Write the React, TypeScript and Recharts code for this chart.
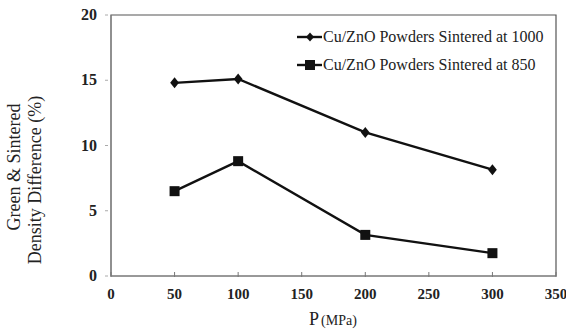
import React from 'react';
import { LineChart, Line, XAxis, YAxis, ReferenceArea } from 'recharts';

const pressures = [50, 100, 200, 300];
const sintered1000 = [14.8, 15.1, 11.0, 8.15];
const sintered850 = [6.5, 8.8, 3.15, 1.75];
const xTicks = [0, 50, 100, 150, 200, 250, 300, 350];
const yTicks = [0, 5, 10, 15, 20];
const series1000Name = 'Cu/ZnO Powders Sintered at 1000';
const series850Name = 'Cu/ZnO Powders Sintered at 850';

const data = pressures.map((p, i) => ({ p, s1000: sintered1000[i], s850: sintered850[i] }));

const FONT = "'Liberation Serif', 'Times New Roman', 'DejaVu Serif', serif";
const fs = { fontFamily: FONT } as React.CSSProperties;

const XTick = (props: any) => {
  const { x, y, payload } = props;
  return (
    <g>
      <line x1={x} y1={y - 7} x2={x} y2={y - 12} stroke="#777" strokeWidth={1} />
      <text x={x} y={y + 15} textAnchor="middle" style={fs} fontWeight="bold" fontSize={15} fill="#222">
        {payload.value}
      </text>
    </g>
  );
};

const YTick = (props: any) => {
  const { x, y, payload } = props;
  return (
    <g>
      <line x1={x + 5} y1={y} x2={x + 2} y2={y} stroke="#aaa" strokeWidth={1} />
      <text x={x - 6} y={y + 5} textAnchor="end" style={fs} fontWeight="bold" fontSize={16} fill="#222">
        {payload.value}
      </text>
    </g>
  );
};

const Diamond = (props: any) => {
  const { cx, cy } = props;
  if (cx == null || cy == null) return null;
  const r = 5.5;
  return <path d={`M${cx},${cy - r}L${cx + r * 0.8},${cy}L${cx},${cy + r}L${cx - r * 0.8},${cy}Z`} fill="#111" />;
};

const Square = (props: any) => {
  const { cx, cy } = props;
  if (cx == null || cy == null) return null;
  const h = 5;
  return <rect x={cx - h} y={cy - h} width={h * 2} height={h * 2} fill="#111" />;
};

export default function App() {
  return (
    <div style={{ position: 'absolute', left: 0, top: 0, width: 566, height: 329, background: '#fff', fontFamily: FONT }}>
      <LineChart width={566} height={329} data={data} margin={{ top: 15, right: 10, bottom: 23, left: 0 }}>
        <XAxis
          dataKey="p"
          type="number"
          domain={[0, 350]}
          ticks={xTicks}
          interval={0}
          height={30}
          axisLine={{ stroke: '#888', strokeWidth: 1 }}
          tickLine={false}
          tick={<XTick />}
        />
        <YAxis
          type="number"
          domain={[0, 20]}
          ticks={yTicks}
          interval={0}
          width={111}
          axisLine={{ stroke: '#888', strokeWidth: 1 }}
          tickLine={false}
          tick={<YTick />}
        />
        <ReferenceArea x1={0} x2={350} y1={0} y2={20} fill="none" stroke="#555" strokeWidth={1.2} ifOverflow="visible" />
        <Line dataKey="s1000" stroke="#111" strokeWidth={2.4} dot={<Diamond />} isAnimationActive={false} />
        <Line dataKey="s850" stroke="#111" strokeWidth={2.4} dot={<Square />} isAnimationActive={false} />
      </LineChart>
      <svg width={566} height={329} style={{ position: 'absolute', left: 0, top: 0, pointerEvents: 'none', fontFamily: FONT }}>
        <g fill="#222" style={fs}>
          <text transform="translate(20,167) rotate(-90)" textAnchor="middle" fontSize={18} style={fs}>Green &amp; Sintered</text>
          <text transform="translate(41,180) rotate(-90)" textAnchor="middle" fontSize={18} style={fs}>Density Difference (%)</text>
          <text x={333} y={325} textAnchor="middle" style={fs}>
            <tspan fontSize={18}>P</tspan>
            <tspan fontSize={14} dx={2}>(MPa)</tspan>
          </text>
          <line x1={297} y1={37} x2={322} y2={37} stroke="#111" strokeWidth={2.4} />
          <path d="M310,32.5L314,37L310,41.5L306,37Z" fill="#111" />
          <text x={323} y={42} fontSize={16} style={fs}>{series1000Name}</text>
          <line x1={297} y1={65} x2={322} y2={65} stroke="#111" strokeWidth={2.4} />
          <rect x={305} y={60} width={10} height={10} fill="#111" />
          <text x={323} y={70} fontSize={16} style={fs}>{series850Name}</text>
        </g>
      </svg>
    </div>
  );
}
